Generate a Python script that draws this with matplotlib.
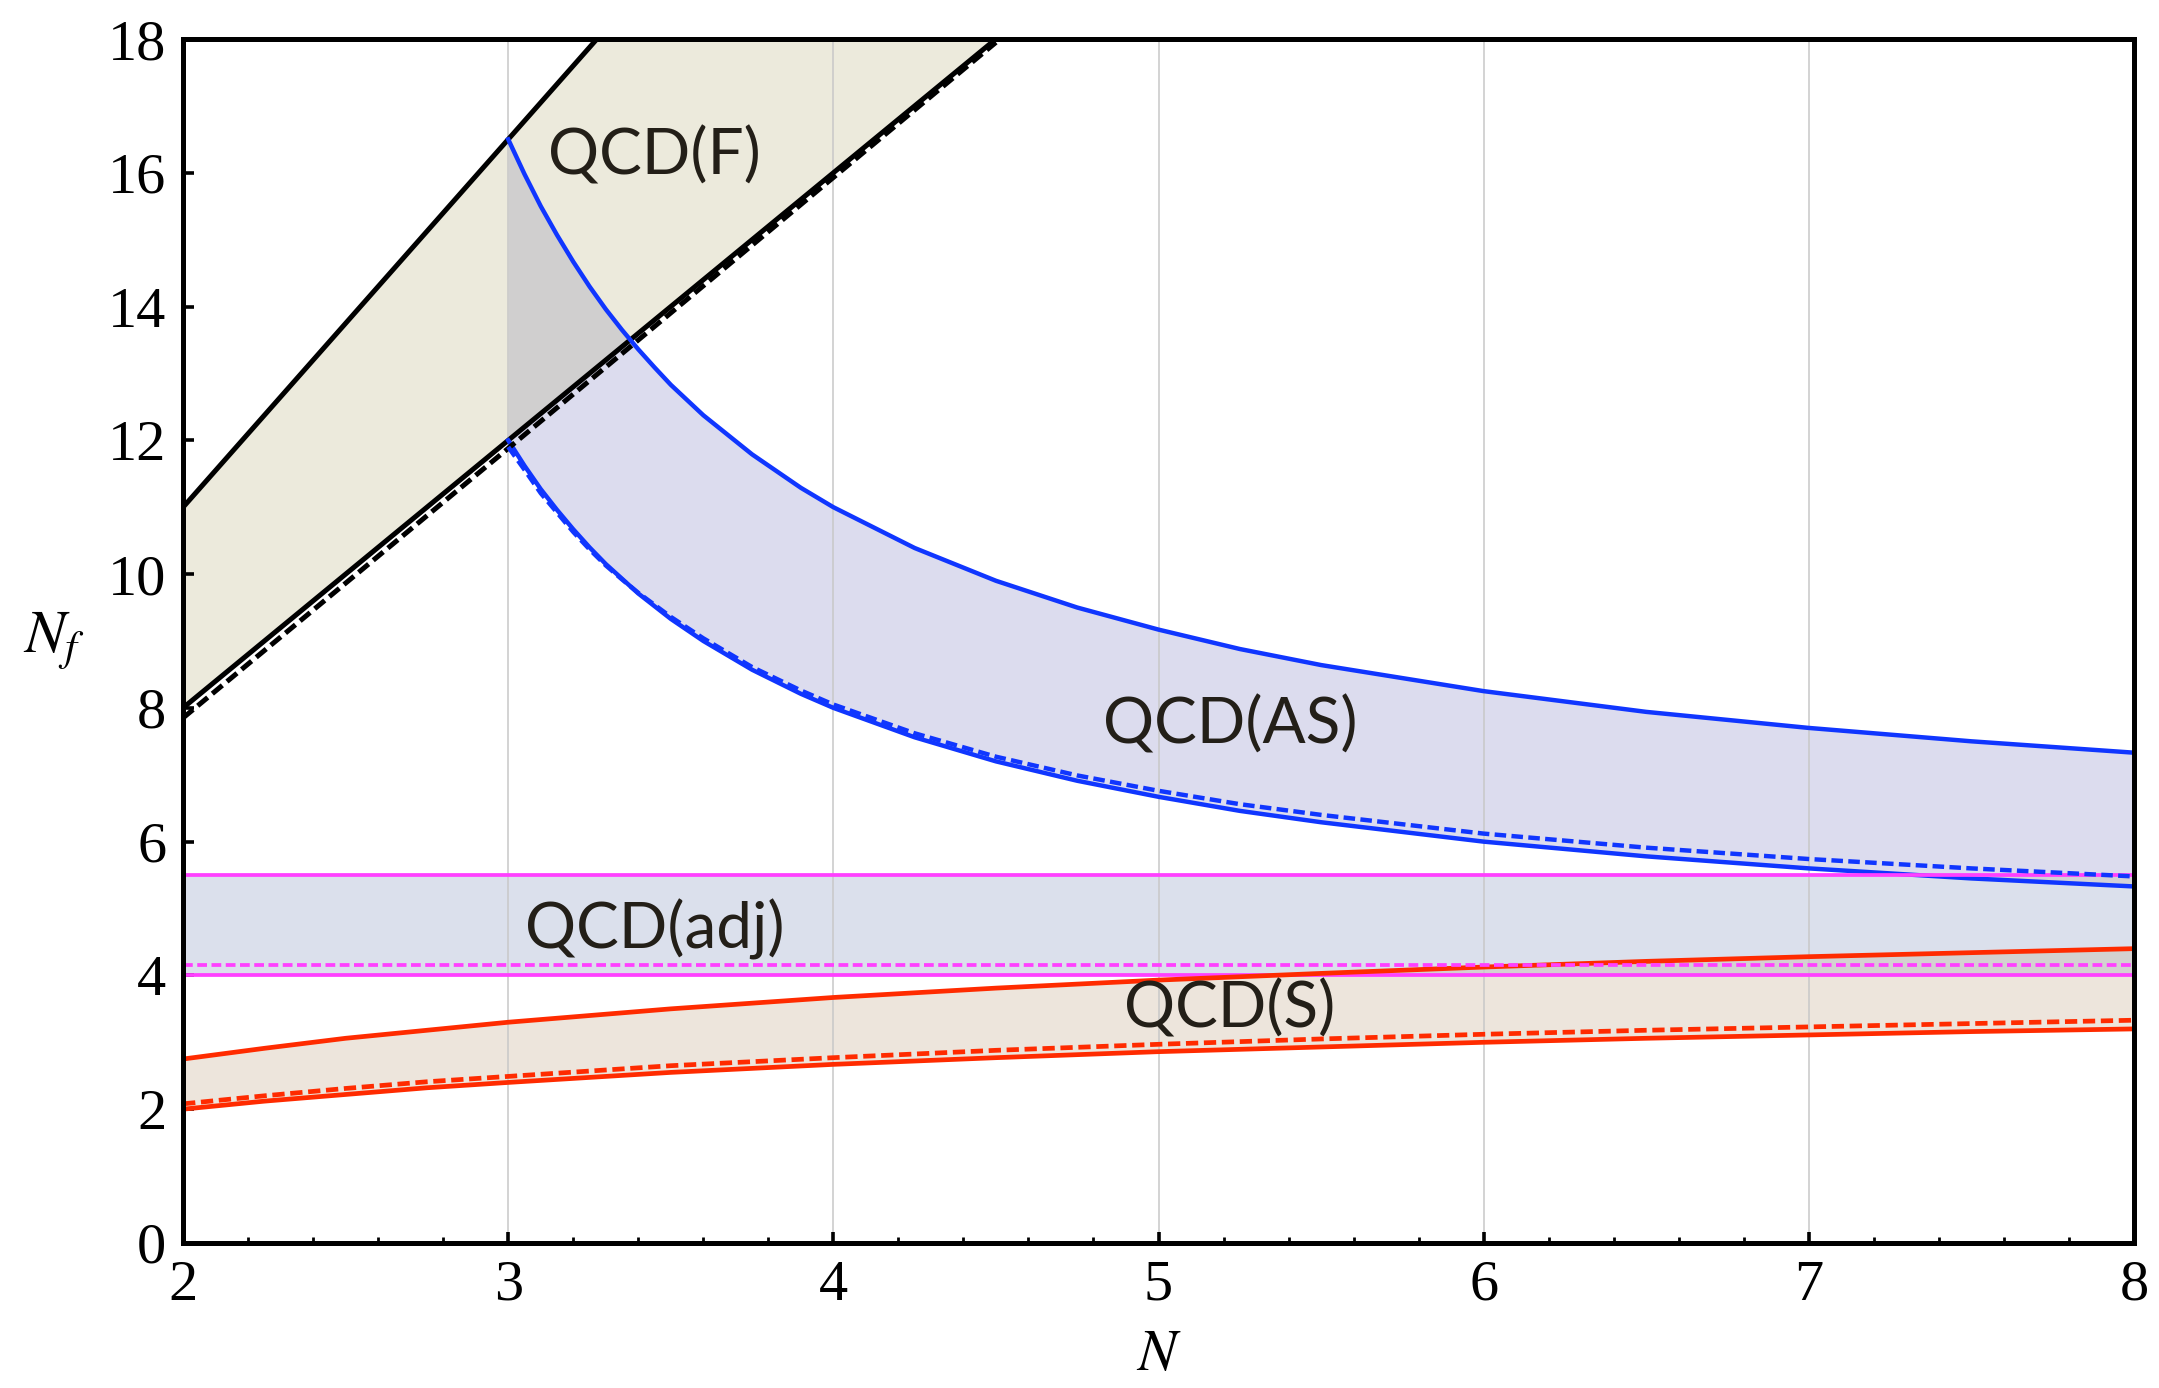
import numpy as np
import matplotlib.pyplot as plt

plt.rcParams['mathtext.fontset'] = 'stix'

# Wartosci
# QCD(F)
N_F = [2, 3, 4, 4.5]
F_upper = [11, 16.5, 22, 24.75]
F_lower = [8, 12, 16, 18]
F_lower_dash = [7.85, 11.88, 15.93, 17.95]

# QCD(AS)
N_AS = [3, 3.05, 3.1, 3.15, 3.2, 3.25, 3.3, 3.35, 3.4, 3.45, 3.5, 3.6, 3.75,
        3.9, 4, 4.25, 4.5, 4.75, 5, 5.25, 5.5, 6, 6.5, 7, 7.5, 8]
AS_upper = [16.5, 15.98, 15.5, 15.07, 14.67, 14.3, 13.96, 13.65, 13.36, 13.09,
            12.83, 12.375, 11.79, 11.29, 11.0, 10.39, 9.9, 9.5, 9.17, 8.88,
            8.64, 8.25, 7.94, 7.7, 7.5, 7.33]
AS_lower = [12.0, 11.62, 11.27, 10.96, 10.67, 10.4, 10.15, 9.93, 9.71, 9.52,
            9.33, 9.0, 8.57, 8.21, 8.0, 7.56, 7.2, 6.91, 6.67, 6.46,
            6.29, 6.0, 5.78, 5.6, 5.45, 5.33]
AS_lower_dash = [11.9, 11.56, 11.21, 10.92, 10.63, 10.37, 10.13, 9.92, 9.72, 9.54,
                 9.36, 9.04, 8.61, 8.26, 8.05, 7.62, 7.27, 6.99, 6.76, 6.56,
                 6.4, 6.12, 5.91, 5.74, 5.6, 5.48]

# QCD(adj)
N_adj = [2, 8]
adj_upper = [5.5, 5.5]
adj_lower = [4.0, 4.0]
adj_lower_dash = [4.15, 4.15]

# QCD(S)
N_S = [2, 2.25, 2.5, 2.75, 3, 3.5, 4, 4.5, 5, 5.5, 6, 6.5, 7, 7.5, 8]
S_upper = [2.75, 2.91, 3.06, 3.18, 3.3, 3.5, 3.67, 3.81, 3.93, 4.03, 4.125,
           4.21, 4.28, 4.34, 4.4]
S_lower = [2.0, 2.12, 2.22, 2.32, 2.4, 2.55, 2.67, 2.77, 2.86, 2.93, 3.0,
           3.06, 3.11, 3.16, 3.2]
S_lower_dash = [2.08, 2.2, 2.31, 2.41, 2.49, 2.65, 2.77, 2.88, 2.97, 3.05, 3.12,
                3.18, 3.23, 3.28, 3.33]

labels = ['QCD(F)', 'QCD(AS)', 'QCD(adj)', 'QCD(S)']
label_pos = [(3.45, 16.25), (5.22, 7.74), (3.45, 4.69), (5.22, 3.5)]

fig = plt.figure(figsize=(21.59, 13.88), dpi=100)
ax = fig.add_axes([0.0848, 0.1045, 0.9036, 0.8674])

# Wypelnienia
ax.fill(list(N_F) + N_F[::-1], list(F_upper) + F_lower[::-1], color='#eceadc', lw=0, zorder=1)
ax.fill_between(N_AS, AS_lower, AS_upper, color='#dcdcee', lw=0, zorder=1)
ax.fill_between(N_adj, adj_lower, adj_upper, color='#dbe0ec', lw=0, zorder=1)
ax.fill_between(N_S, S_lower, S_upper, color='#ede5dc', lw=0, zorder=1)

# Obszary nakladania sie
N_AS_a = np.array(N_AS)
AS_up_a = np.array(AS_upper)
AS_lo_a = np.array(AS_lower)
F_lo_on_AS = np.interp(N_AS_a, N_F, F_lower)
ax.fill_between(N_AS_a, F_lo_on_AS, AS_up_a, where=AS_up_a >= F_lo_on_AS,
                interpolate=True, color='#d0cfcf', lw=0, zorder=1.1)
ax.fill_between(N_AS_a, AS_lo_a, 5.5, where=AS_lo_a <= 5.5,
                interpolate=True, color='#d3d1d6', lw=0, zorder=1.1)
S_up_a = np.array(S_upper)
ax.fill_between(N_S, 4.0, S_up_a, where=S_up_a >= 4.0,
                interpolate=True, color='#d3d1d0', lw=0, zorder=1.1)

# Linie
dash = (0, (2.6, 1.2))
ax.plot(N_F, F_upper, color='black', lw=3.6, zorder=3)
ax.plot(N_F, F_lower, color='black', lw=3.6, zorder=3)
ax.plot(N_F, F_lower_dash, color='black', lw=3.6, ls=dash, zorder=3.1)

ax.plot(N_AS, AS_upper, color='#1036ff', lw=3.2, zorder=3)
ax.plot(N_AS, AS_lower, color='#1036ff', lw=3.2, zorder=3)
ax.plot(N_AS, AS_lower_dash, color='#1036ff', lw=3.2, ls=dash, zorder=3.1)

ax.plot(N_adj, adj_upper, color='#ff40ff', lw=2.7, zorder=3)
ax.plot(N_adj, adj_lower, color='#ff40ff', lw=2.7, zorder=3)
ax.plot(N_adj, adj_lower_dash, color='#ff40ff', lw=2.7, ls=dash, zorder=3.1)

ax.plot(N_S, S_upper, color='#ff2b00', lw=3.4, zorder=3)
ax.plot(N_S, S_lower, color='#ff2b00', lw=3.4, zorder=3)
ax.plot(N_S, S_lower_dash, color='#ff2b00', lw=3.4, ls=dash, zorder=3.1)

for txt, (x, y) in zip(labels, label_pos):
    ax.text(x, y, txt, family='Lato', fontsize=46, color='#231f18',
            ha='center', va='center', zorder=4)

ax.set_xlim(2, 8)
ax.set_ylim(0, 18)
ax.set_xticks(range(2, 9))
ax.set_xticks(np.arange(2, 8.01, 0.2), minor=True)
ax.set_yticks(range(0, 19, 2))

ax.set_axisbelow('line')
ax.xaxis.grid(True, color='#c8c8c8', lw=1.1)

for s in ax.spines.values():
    s.set_linewidth(3.6)
    s.set_zorder(5)

ax.tick_params(which='both', direction='in', top=False, right=False)
ax.tick_params(which='major', length=8, width=2.6, labelsize=42, pad=12)
ax.tick_params(which='minor', length=4.5, width=2.0)
ax.tick_params(axis='y', which='minor', left=False)
for lab in ax.get_xticklabels() + ax.get_yticklabels():
    lab.set_family('Liberation Serif')

ax.text(-0.066, 0.50, r'$N_f$', transform=ax.transAxes, fontsize=44,
        ha='center', va='center')
ax.text(0.5, -0.092, r'$N$', transform=ax.transAxes, fontsize=42,
        ha='center', va='center')

plt.savefig('out.png', dpi=100)
